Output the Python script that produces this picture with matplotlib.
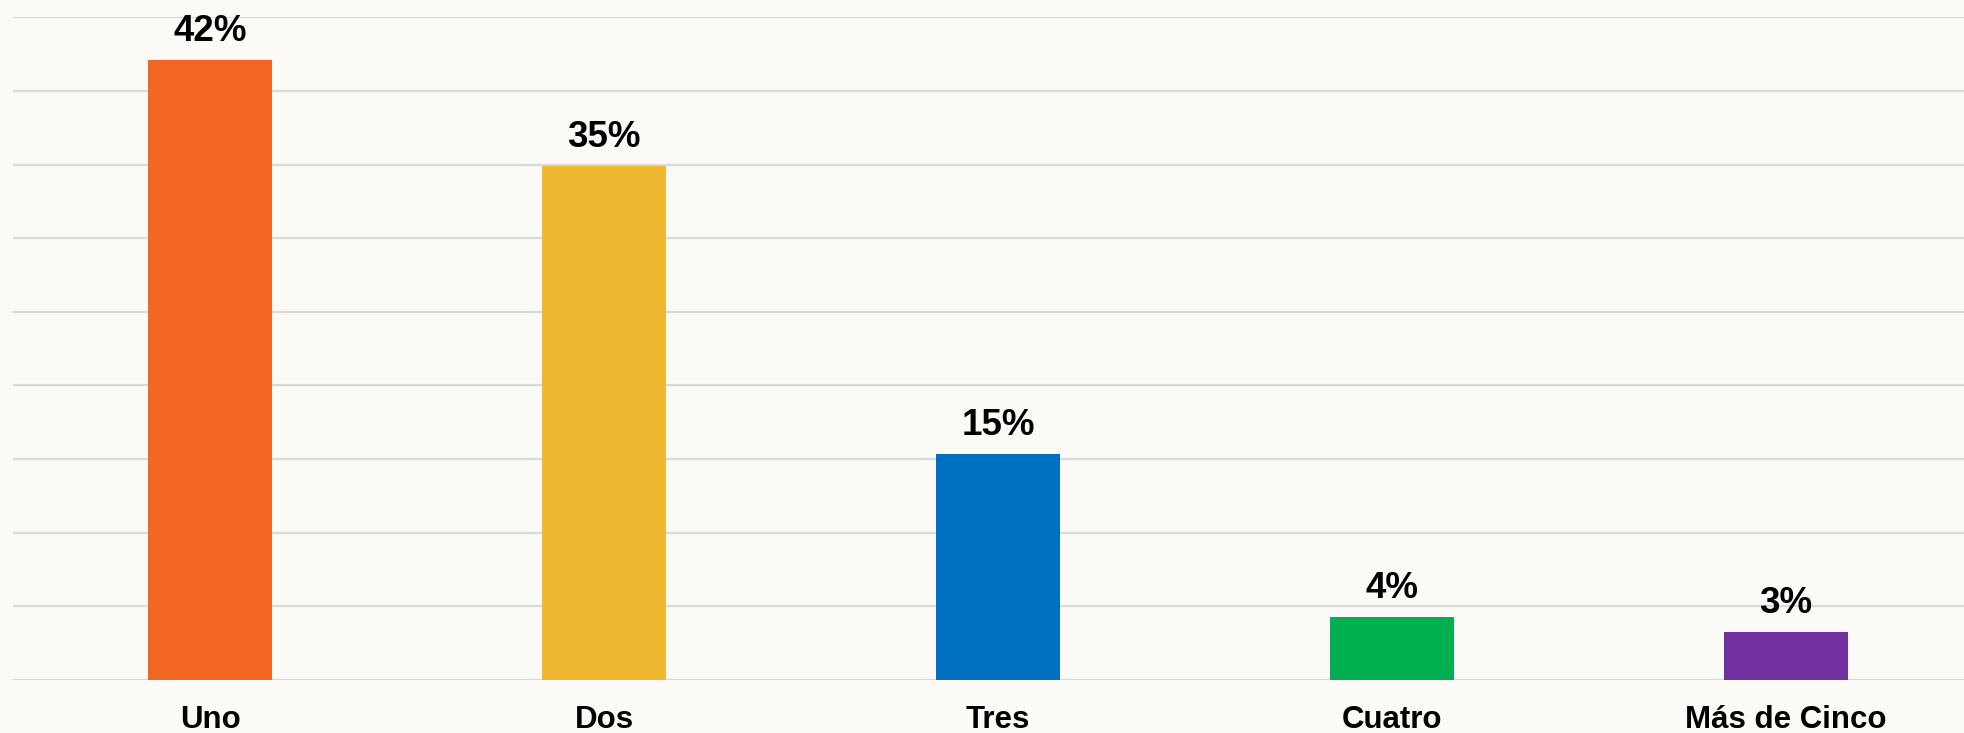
import matplotlib.pyplot as plt
import numpy as np

categories = ['Uno', 'Dos', 'Tres', 'Cuatro', 'Más de Cinco']
values = [42.1, 34.9, 15.35, 4.26, 3.28]
labels = ['42%', '35%', '15%', '4%', '3%']
colors = ['#F26522', '#F0B731', '#0070C0', '#00B050', '#7030A0']

plt.rcParams['font.family'] = ['Liberation Sans', 'DejaVu Sans']

bg = '#FBFAF6'
fig = plt.figure(figsize=(19.64, 7.33), dpi=100, facecolor=bg)
# axes runs a bit past the right edge, as in the original slide crop
ax = fig.add_axes([13 / 1964, 53 / 733, 1970 / 1964, 662.7 / 733])
ax.set_facecolor(bg)

x = np.arange(len(categories))
ax.bar(x, values, width=0.315, color=colors, zorder=3)

for xi, v, lab in zip(x, values, labels):
    ax.annotate(lab, (xi, v), xytext=(0, 8), textcoords='offset points',
                ha='center', va='bottom', fontsize=26.5, fontweight='bold')

ax.set_xlim(-0.5, len(categories) - 0.5)
ax.set_ylim(0, 45)
ax.set_yticks(np.arange(0, 46, 5))
ax.yaxis.grid(True, color='#D9D9D9', linewidth=1.6, zorder=0)
ax.set_xticks(x)
ax.set_xticklabels(categories, fontsize=22.5, fontweight='bold')
ax.tick_params(axis='x', length=0, pad=18)
ax.tick_params(axis='y', length=0, labelleft=False)
for s in ax.spines.values():
    s.set_visible(False)

fig.savefig('out.png', dpi=100, facecolor=bg)
